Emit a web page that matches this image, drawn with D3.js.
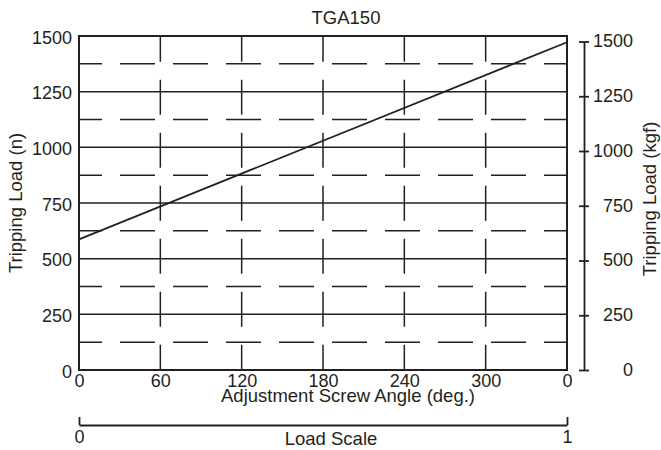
<!DOCTYPE html>
<html>
<head>
<meta charset="utf-8">
<script src="https://cdn.jsdelivr.net/npm/d3@7"></script>
<style>
  html, body { margin: 0; padding: 0; background: #fff; }
  svg { display: block; }
  text { font-family: "Liberation Sans", Arial, Helvetica, sans-serif; fill: #231f20; }
</style>
</head>
<body>
<svg id="chart" width="661" height="450"></svg>
<script>
// ---- data ----
const title = "TGA150";
const angles = [0, 360];
const loads = [587, 1472];
const xTicks = [0, 60, 120, 180, 240, 300, 360];
const xTickLabels = ["0", "60", "120", "180", "240", "300", "0"];
const yTicks = [0, 250, 500, 750, 1000, 1250, 1500];
const yMinorTicks = [125, 375, 625, 875, 1125, 1375];
const loadScaleTicks = [0, 1];
const xTitle = "Adjustment Screw Angle (deg.)";
const yLeftTitle = "Tripping Load (n)";
const yRightTitle = "Tripping Load (kgf)";
const loadScaleTitle = "Load Scale";

// ---- layout ----
const ink = "#231f20";
const svg = d3.select("#chart");
const x = d3.scaleLinear().domain([0, 360]).range([79, 567]);
const y = d3.scaleLinear().domain([0, 1500]).range([370, 36]);
const yR = d3.scaleLinear().domain([0, 1500]).range([370, 41.5]);
const ls = d3.scaleLinear().domain([0, 1]).range([79, 567]);

// grid: solid horizontals
svg.append("g").selectAll("line")
  .data(yTicks.filter(d => d > 0 && d < 1500))
  .join("line")
  .attr("x1", x(0)).attr("x2", x(360))
  .attr("y1", d => y(d)).attr("y2", d => y(d))
  .attr("stroke", ink).attr("stroke-width", 1.5);

// grid: dashed horizontals
svg.append("g").selectAll("line")
  .data(yMinorTicks)
  .join("line")
  .attr("x1", x(0)).attr("x2", x(360))
  .attr("y1", d => y(d)).attr("y2", d => y(d))
  .attr("stroke", ink).attr("stroke-width", 1.5)
  .attr("stroke-dasharray", "35 18").attr("stroke-dashoffset", 12);

// grid: dashed verticals
svg.append("g").selectAll("line")
  .data(xTicks.filter(d => d > 0 && d < 360))
  .join("line")
  .attr("x1", d => x(d)).attr("x2", d => x(d))
  .attr("y1", y(1500)).attr("y2", y(0))
  .attr("stroke", ink).attr("stroke-width", 1.5)
  .attr("stroke-dasharray", "35 18").attr("stroke-dashoffset", 9.3);

// frame
svg.append("rect")
  .attr("x", x(0)).attr("y", y(1500))
  .attr("width", x(360) - x(0)).attr("height", y(0) - y(1500))
  .attr("fill", "none").attr("stroke", ink).attr("stroke-width", 2);

// data line
const line = d3.line().x(d => x(d[0])).y(d => y(d[1]));
svg.append("path")
  .datum(angles.map((a, i) => [a, loads[i]]))
  .attr("d", line)
  .attr("fill", "none").attr("stroke", ink).attr("stroke-width", 1.8);

// left axis labels
const gL = svg.append("g").attr("transform", `translate(${x(0)},0)`)
  .call(d3.axisLeft(y).tickValues(yTicks).tickSize(0).tickPadding(7).tickFormat(d3.format("d")));
gL.select(".domain").remove();
gL.selectAll("text").attr("font-size", 18).attr("dy", "0.4em").style("font-family", null);

// bottom axis labels
const gB = svg.append("g").attr("transform", `translate(0,${y(0)})`)
  .call(d3.axisBottom(x).tickValues(xTicks).tickSize(0).tickPadding(4)
    .tickFormat((d, i) => xTickLabels[i]));
gB.select(".domain").remove();
gB.selectAll("text").attr("font-size", 18).style("font-family", null);

// right axis
const gR = svg.append("g").attr("transform", "translate(584,0)")
  .call(d3.axisRight(yR).tickValues(yTicks).tickSizeOuter(0).tickSizeInner(5).tickPadding(3)
    .tickFormat(d3.format("d")));
gR.select(".domain").attr("stroke", ink).attr("stroke-width", 1.8);
gR.selectAll(".tick line").attr("x1", -5).attr("x2", 5).attr("stroke", ink).attr("stroke-width", 1.8);
gR.selectAll("text").attr("font-size", 18).attr("x", 49).attr("text-anchor", "end")
  .attr("dy", "0.3em").style("font-family", null);

// load scale axis
const gS = svg.append("g").attr("transform", "translate(0,425)")
  .call(d3.axisTop(ls).tickValues(loadScaleTicks).tickSizeInner(8).tickSizeOuter(0).tickFormat(d3.format("d")));
gS.select(".domain").attr("stroke", ink).attr("stroke-width", 1.8);
gS.selectAll(".tick line").attr("stroke", ink).attr("stroke-width", 1.8);
gS.selectAll("text").attr("font-size", 18).attr("y", 18).attr("dy", 0).style("font-family", null);

// titles
svg.append("text").attr("x", 346).attr("y", 24).attr("text-anchor", "middle")
  .attr("font-size", 18.5).text(title);
svg.append("text").attr("x", 348).attr("y", 402).attr("text-anchor", "middle")
  .attr("font-size", 18.5).text(xTitle);
svg.append("text").attr("x", 331).attr("y", 445).attr("text-anchor", "middle")
  .attr("font-size", 18.5).text(loadScaleTitle);
svg.append("text").attr("transform", "translate(22,203) rotate(-90)").attr("text-anchor", "middle")
  .attr("font-size", 18.5).text(yLeftTitle);
svg.append("text").attr("transform", "translate(656,199) rotate(-90)").attr("text-anchor", "middle")
  .attr("font-size", 18.5).text(yRightTitle);
</script>
</body>
</html>
